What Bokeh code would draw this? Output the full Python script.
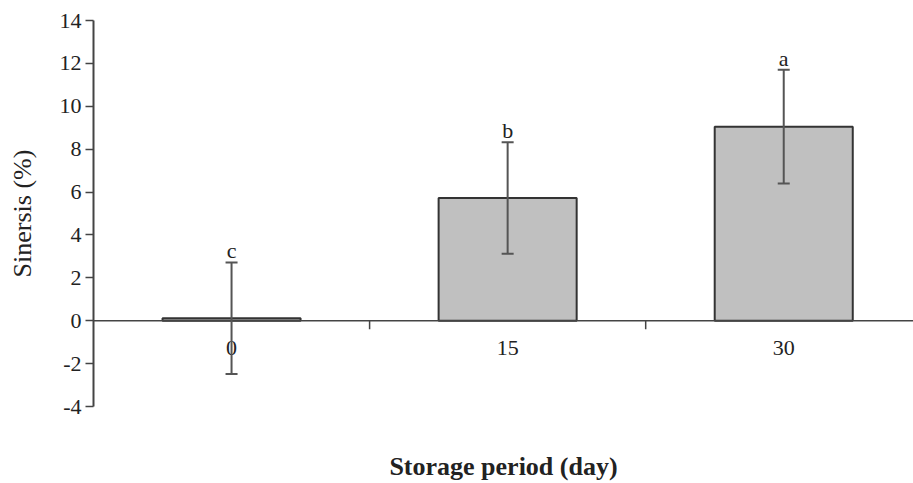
from bokeh.plotting import figure
from bokeh.models import Range1d, FixedTicker, Span, Whisker, ColumnDataSource
from bokeh.core.properties import value
from bokeh.embed import file_html
from bokeh.resources import INLINE

# ---- data ----
categories = ["0", "15", "30"]
sineresis = [0.12, 5.72, 9.05]
err = [2.6, 2.6, 2.65]
letters = ["c", "b", "a"]
y_ticks = [-4, -2, 0, 2, 4, 6, 8, 10, 12, 14]
x_title = "Storage period (day)"
y_title = "Sinersis (%)"

n = len(categories)
xs = [i + 0.5 for i in range(n)]
upper = [m + e for m, e in zip(sineresis, err)]
lower = [m - e for m, e in zip(sineresis, err)]

src = ColumnDataSource(dict(x=xs, top=sineresis, upper=upper, lower=lower,
                            cat=categories, letter=letters,
                            zero=[0] * n))

SERIF = "Liberation Serif"
x_end = n - 0.03

p = figure(width=913, height=483, output_backend="svg", toolbar_location=None,
           x_range=Range1d(0, x_end), y_range=Range1d(min(y_ticks), max(y_ticks)),
           min_border_left=93, min_border_right=0, min_border_top=20, min_border_bottom=77)
p.outline_line_color = None
p.grid.visible = False
p.background_fill_color = "white"
p.border_fill_color = "white"

# y axis
ya = p.yaxis[0]
ya.ticker = FixedTicker(ticks=y_ticks)
ya.major_label_overrides = {t: str(t) for t in y_ticks}
ya.axis_line_color = "#444444"
ya.axis_line_width = 2
ya.major_tick_line_color = "#444444"
ya.major_tick_line_width = 1.5
ya.major_tick_out = 8
ya.major_tick_in = 0
ya.minor_tick_out = 0
ya.minor_tick_in = 0
ya.major_label_standoff = 4
ya.major_label_text_font = SERIF
ya.major_label_text_font_size = "22px"
ya.major_label_text_color = "#222222"
ya.axis_label = y_title
ya.axis_label_text_font = SERIF
ya.axis_label_text_font_size = "26px"
ya.axis_label_text_font_style = "normal"
ya.axis_label_text_color = "#222222"
ya.axis_label_standoff = 20

# x axis used only for its title
xa = p.xaxis[0]
xa.ticker = FixedTicker(ticks=[])
xa.axis_line_color = None
xa.major_tick_line_color = None
xa.minor_tick_line_color = None
xa.major_tick_out = 0
xa.major_tick_in = 0
xa.axis_label = x_title
xa.axis_label_text_font = SERIF
xa.axis_label_text_font_size = "26px"
xa.axis_label_text_font_style = "bold"
xa.axis_label_text_color = "#222222"
xa.axis_label_standoff = 45

# bars
p.vbar(x="x", top="top", bottom=0, width=0.5, source=src,
       fill_color="#C0C0C0", line_color="#333333", line_width=2)

# zero line acting as category axis
p.add_layout(Span(location=0, dimension="width", line_color="#444444", line_width=1.5))

# category separators (tick marks) on the zero line
bounds = list(range(1, n))
p.segment(x0=bounds, x1=bounds, y0=[0] * len(bounds), y1=[-0.4] * len(bounds),
          line_color="#444444", line_width=1.5)

# error bars (drawn over the bars)
w = Whisker(base="x", upper="upper", lower="lower", source=src,
            line_color="#555555", line_width=2, level="overlay")
w.upper_head.size = 12
w.lower_head.size = 12
w.upper_head.line_color = "#555555"
w.lower_head.line_color = "#555555"
w.upper_head.line_width = 2
w.lower_head.line_width = 2
p.add_layout(w)

# category labels below the zero line
p.text(x="x", y="zero", text="cat", source=src, text_font=value(SERIF),
       text_font_size="22px", text_align="center", text_baseline="top",
       y_offset=20, text_color="#222222")

# significance letters
p.text(x="x", y="upper", text="letter", source=src, text_font=value(SERIF),
       text_font_size="22px", text_align="center", text_baseline="bottom",
       y_offset=1, text_color="#222222")

open("out.html", "w").write(file_html(p, INLINE))
